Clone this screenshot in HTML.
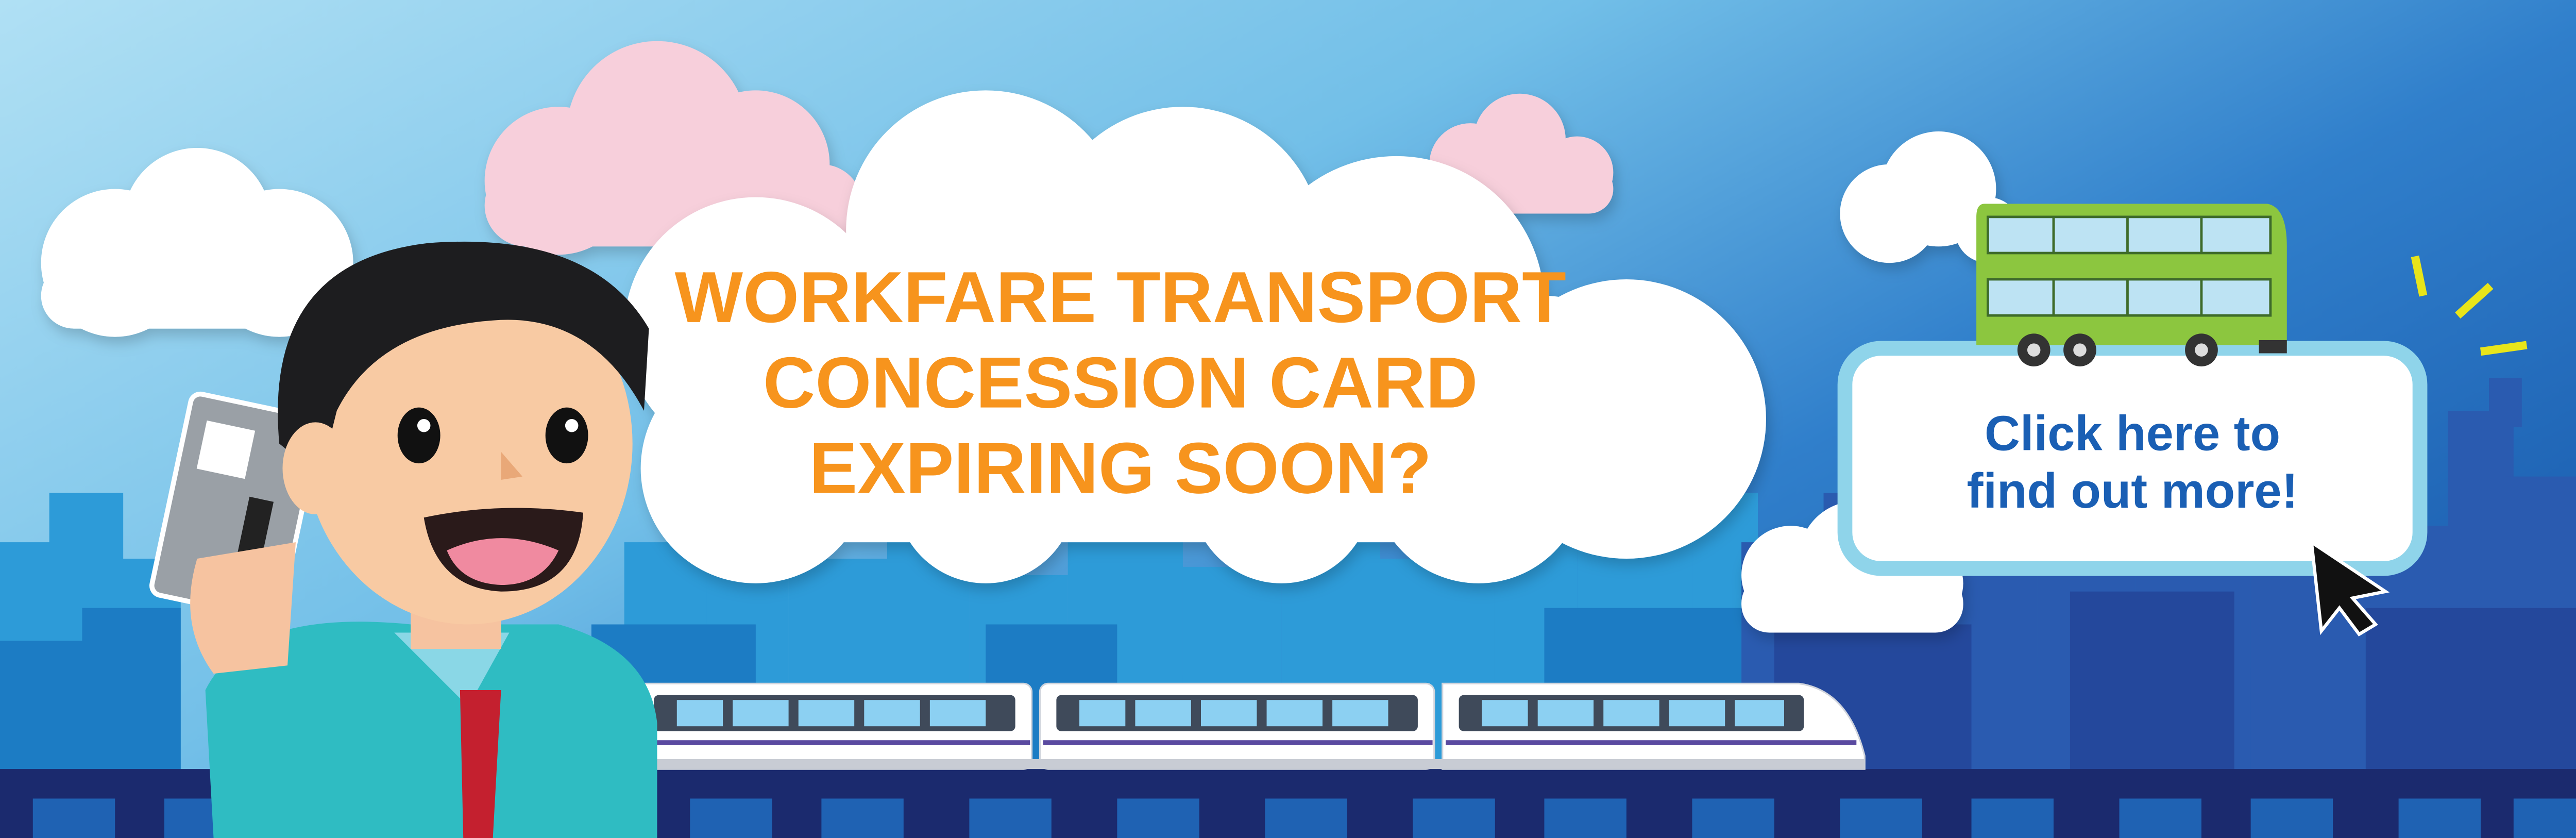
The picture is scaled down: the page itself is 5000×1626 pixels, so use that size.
<!DOCTYPE html>
<html><head><meta charset="utf-8"><style>
html,body{margin:0;padding:0;width:5000px;height:1626px;overflow:hidden}
svg{display:block}
</style></head><body>
<svg width="5000" height="1626" viewBox="0 0 1568 510" preserveAspectRatio="none" xmlns="http://www.w3.org/2000/svg">
<defs>
<linearGradient id="sky" x1="0" y1="0" x2="1" y2="0.6">
<stop offset="0" stop-color="#b0e0f4"/><stop offset="0.45" stop-color="#72bfe8"/><stop offset="0.75" stop-color="#307fcb"/><stop offset="1" stop-color="#1f64b5"/>
</linearGradient>
<filter id="sh" x="-10%" y="-10%" width="120%" height="130%"><feDropShadow dx="2" dy="4" stdDeviation="4" flood-color="#000" flood-opacity="0.18"/></filter>
</defs>
<rect width="1568" height="510" fill="url(#sky)"/>
<g fill="#2d9bd8">
<rect x="0" y="330" width="40" height="150"/><rect x="30" y="300" width="45" height="180"/><rect x="70" y="340" width="40" height="140"/>
<rect x="380" y="330" width="60" height="150"/><rect x="430" y="300" width="50" height="180"/><rect x="480" y="340" width="60" height="140"/>
<rect x="540" y="320" width="50" height="160"/><rect x="590" y="350" width="60" height="130"/><rect x="650" y="330" width="70" height="150"/>
<rect x="720" y="345" width="60" height="135"/><rect x="780" y="320" width="60" height="160"/><rect x="840" y="340" width="70" height="140"/>
<rect x="910" y="310" width="50" height="170"/><rect x="960" y="330" width="70" height="150"/><rect x="1030" y="300" width="40" height="180"/>
</g>
<g fill="#1c7cc4">
<rect x="0" y="390" width="60" height="90"/><rect x="50" y="370" width="60" height="110"/><rect x="360" y="380" width="100" height="100"/>
<rect x="600" y="380" width="80" height="100"/><rect x="940" y="370" width="120" height="110"/>
</g>
<g fill="#2a5bb0">
<rect x="1060" y="330" width="60" height="150"/><rect x="1110" y="300" width="50" height="180"/><rect x="1160" y="340" width="80" height="140"/>
<rect x="1240" y="300" width="60" height="180"/><rect x="1300" y="320" width="70" height="160"/><rect x="1370" y="290" width="60" height="190"/>
<rect x="1430" y="320" width="60" height="160"/><rect x="1490" y="250" width="40" height="230"/><rect x="1525" y="290" width="43" height="190"/>
<rect x="1515" y="230" width="20" height="30"/>
</g>
<g fill="#24489c">
<rect x="1080" y="380" width="120" height="100"/><rect x="1260" y="360" width="100" height="120"/><rect x="1440" y="370" width="128" height="110"/>
</g>
<rect x="0" y="468" width="1568" height="42" fill="#1b2a6e"/>
<g fill="#1f62b3">
<rect x="20" y="486" width="50" height="24"/><rect x="100" y="486" width="50" height="24"/><rect x="420" y="486" width="50" height="24"/><rect x="500" y="486" width="50" height="24"/><rect x="590" y="486" width="50" height="24"/><rect x="680" y="486" width="50" height="24"/><rect x="770" y="486" width="50" height="24"/><rect x="860" y="486" width="50" height="24"/><rect x="940" y="486" width="50" height="24"/><rect x="1030" y="486" width="50" height="24"/><rect x="1120" y="486" width="50" height="24"/><rect x="1200" y="486" width="50" height="24"/><rect x="1290" y="486" width="50" height="24"/><rect x="1370" y="486" width="50" height="24"/><rect x="1460" y="486" width="50" height="24"/><rect x="1530" y="486" width="38" height="24"/>
</g>
<g fill="#ffffff" filter="url(#sh)">
<circle cx="70" cy="160" r="45"/><circle cx="120" cy="135" r="45"/><circle cx="170" cy="160" r="45"/><rect x="25" y="160" width="200" height="40" rx="20"/>
<circle cx="1150" cy="130" r="30"/><circle cx="1180" cy="115" r="35"/><circle cx="1210" cy="140" r="20"/>
<circle cx="1090" cy="350" r="30"/><circle cx="1130" cy="340" r="35"/><circle cx="1170" cy="355" r="25"/><rect x="1060" y="350" width="135" height="35" rx="17"/>
</g>
<g fill="#f7cfdb" filter="url(#sh)">
<circle cx="340" cy="110" r="45"/><circle cx="400" cy="80" r="55"/><circle cx="460" cy="100" r="45"/><rect x="295" y="100" width="230" height="50" rx="25"/>
<circle cx="895" cy="100" r="25"/><circle cx="925" cy="85" r="28"/><circle cx="960" cy="105" r="22"/><rect x="862" y="100" width="120" height="30" rx="15"/>
</g>
<g fill="#ffffff" filter="url(#sh)">
<circle cx="460" cy="200" r="80"/><circle cx="600" cy="140" r="85"/><circle cx="720" cy="150" r="85"/><circle cx="850" cy="185" r="90"/>
<circle cx="990" cy="255" r="85"/><circle cx="460" cy="285" r="70"/><circle cx="600" cy="300" r="55"/><circle cx="780" cy="300" r="55"/><circle cx="900" cy="290" r="65"/>
<rect x="420" y="180" width="580" height="150" rx="60"/>
</g>
<text font-family="Liberation Sans, sans-serif" font-weight="bold" font-size="44" fill="#f7941d" text-anchor="middle">
<tspan x="682" y="196">WORKFARE TRANSPORT</tspan><tspan x="682" y="248">CONCESSION CARD</tspan><tspan x="682" y="300">EXPIRING SOON?</tspan></text>
<g>
<rect x="388" y="416" width="240" height="52" rx="5" fill="#fff" stroke="#d0d4dc"/>
<rect x="633" y="416" width="240" height="52" rx="5" fill="#fff" stroke="#d0d4dc"/>
<path d="M878 416 H1095 Q1125 420 1135 460 V468 H878 Z" fill="#fff" stroke="#d0d4dc"/>
<g fill="#3f4a5a"><rect x="398" y="423" width="220" height="22" rx="3"/><rect x="643" y="423" width="220" height="22" rx="3"/><rect x="888" y="423" width="210" height="22" rx="3"/></g>
<g fill="#8cd0f2">
<rect x="412" y="426" width="28" height="16"/><rect x="446" y="426" width="34" height="16"/><rect x="486" y="426" width="34" height="16"/><rect x="526" y="426" width="34" height="16"/><rect x="566" y="426" width="34" height="16"/>
<rect x="657" y="426" width="28" height="16"/><rect x="691" y="426" width="34" height="16"/><rect x="731" y="426" width="34" height="16"/><rect x="771" y="426" width="34" height="16"/><rect x="811" y="426" width="34" height="16"/>
<rect x="902" y="426" width="28" height="16"/><rect x="936" y="426" width="34" height="16"/><rect x="976" y="426" width="34" height="16"/><rect x="1016" y="426" width="34" height="16"/><rect x="1056" y="426" width="30" height="16"/>
</g>
<g stroke="#5a4aa0" stroke-width="3"><line x1="390" y1="452" x2="627" y2="452"/><line x1="635" y1="452" x2="872" y2="452"/><line x1="880" y1="452" x2="1130" y2="452"/></g>
<rect x="388" y="462" width="747" height="6" fill="#c8ccd4"/>
</g>
<rect x="1123" y="212" width="350" height="134" rx="22" fill="#fff" stroke="#8fd4ea" stroke-width="9"/>
<text font-family="Liberation Sans, sans-serif" font-weight="bold" font-size="30" fill="#1a5fb4" text-anchor="middle"><tspan x="1298" y="274">Click here to</tspan><tspan x="1298" y="309">find out more!</tspan></text>
<path d="M1208 124 H1380 Q1392 126 1392 150 V210 H1203 V132 Q1203 124 1208 124 Z" fill="#8cc63f"/>
<g fill="#bde3f3" stroke="#3e6b2a" stroke-width="1.5"><rect x="1210" y="132" width="172" height="22"/><rect x="1210" y="170" width="172" height="22"/></g>
<g stroke="#3e6b2a" stroke-width="1.5"><line x1="1250" y1="132" x2="1250" y2="154"/><line x1="1295" y1="132" x2="1295" y2="154"/><line x1="1340" y1="132" x2="1340" y2="154"/><line x1="1250" y1="170" x2="1250" y2="192"/><line x1="1295" y1="170" x2="1295" y2="192"/><line x1="1340" y1="170" x2="1340" y2="192"/></g>
<rect x="1375" y="207" width="17" height="8" fill="#333"/>
<g fill="#333"><circle cx="1238" cy="213" r="10"/><circle cx="1266" cy="213" r="10"/><circle cx="1340" cy="213" r="10"/></g>
<g fill="#ddd"><circle cx="1238" cy="213" r="4"/><circle cx="1266" cy="213" r="4"/><circle cx="1340" cy="213" r="4"/></g>
<g stroke="#e8e51a" stroke-width="5"><line x1="1470" y1="156" x2="1475" y2="180"/><line x1="1496" y1="192" x2="1516" y2="174"/><line x1="1510" y1="214" x2="1538" y2="210"/></g>
<path d="M1407 330 L1452 360 L1432 364 L1446 380 L1436 386 L1424 370 L1413 384 Z" fill="#111" stroke="#fff" stroke-width="2"/>
<path d="M125 420 Q150 370 250 380 L340 380 Q395 395 400 440 L400 510 H130 Z" fill="#2fbcc2"/>
<path d="M240 385 L285 430 L310 385 Z" fill="#8ad7e6"/>
<path d="M280 420 L305 420 L300 510 L282 510 Z" fill="#c4202f"/>
<rect x="250" y="360" width="55" height="35" fill="#f6c3a0"/>
<g transform="rotate(12 140 310)"><rect x="103" y="245" width="80" height="125" rx="6" fill="#9aa0a6" stroke="#fff" stroke-width="3"/>
<rect x="115" y="260" width="30" height="30" fill="#fff"/><rect x="150" y="300" width="15" height="50" fill="#222"/></g>
<path d="M120 340 Q108 380 130 410 L175 405 L180 330 Z" fill="#f6c3a0"/>
<ellipse cx="285" cy="270" rx="100" ry="110" fill="#f8caa3"/>
<path d="M170 270 Q160 160 260 148 Q360 140 395 200 L392 250 Q360 190 300 195 Q230 200 205 250 L195 290 Z" fill="#1d1d1f"/>
<ellipse cx="192" cy="285" rx="20" ry="28" fill="#f8caa3"/>
<ellipse cx="255" cy="265" rx="13" ry="17" fill="#111"/><ellipse cx="345" cy="265" rx="13" ry="17" fill="#111"/>
<circle cx="258" cy="259" r="4" fill="#fff"/><circle cx="348" cy="259" r="4" fill="#fff"/>
<path d="M305 275 L318 290 L305 292" fill="#e9a878"/>
<path d="M258 315 Q305 305 355 312 Q352 360 305 360 Q265 358 258 315 Z" fill="#2a1a1a"/>
<path d="M272 335 Q305 320 340 335 Q330 356 305 356 Q280 355 272 335 Z" fill="#f08aa0"/>
</svg>
</body></html>
